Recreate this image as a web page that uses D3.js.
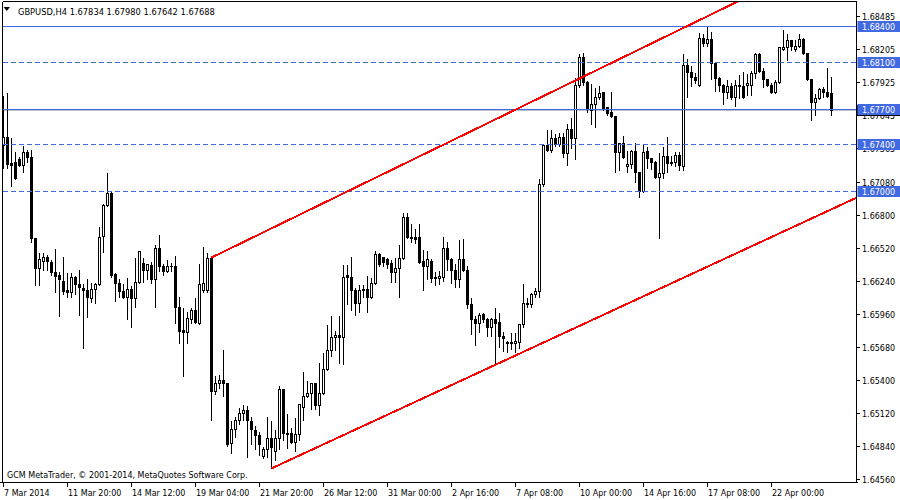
<!DOCTYPE html>
<html><head><meta charset="utf-8">
<script src="https://cdn.jsdelivr.net/npm/d3@7"></script>
<style>
html,body{margin:0;padding:0;background:#fff;}
svg{display:block;}
text{font-family:"DejaVu Sans",sans-serif;font-size:8px;}
</style>
</head><body>
<svg id="c" width="900" height="500"></svg>
<script>
// ---- data (GBPUSD H4 bars, 7 Mar 2014 04:00 -> 24 Apr 2014 12:00) ----
const open=[
1.6739,1.6746,1.6724,1.6725,1.6727,1.6722,1.6733,1.6729,1.6660,1.6635,
1.6641,1.6644,1.6640,1.6631,1.6629,1.6624,1.6616,1.6614,1.6627,1.6621,
1.6618,1.6616,1.6609,1.6617,1.6621,1.6662,1.6688,1.6698,1.6630,1.6622,
1.6615,1.6610,1.6617,1.6609,1.6623,1.6639,1.6633,1.6637,1.6625,1.6652,
1.6636,1.6632,1.6636,1.6636,1.6602,1.6582,1.6580,1.6591,1.6599,1.6588,
1.6616,1.6616,1.6643,1.6530,1.6537,1.6540,1.6537,1.6486,1.6498,1.6506,
1.6512,1.6514,1.6505,1.6497,1.6493,1.6475,1.6481,1.6490,1.6479,1.6490,
1.6532,1.6495,1.6495,1.6487,1.6494,1.6517,1.6526,1.6529,1.6537,1.6518,
1.6529,1.6549,1.6565,1.6576,1.6578,1.6576,1.6629,1.6627,1.6616,1.6605,
1.6617,1.6617,1.6610,1.6622,1.6647,1.6644,1.6642,1.6639,1.6631,1.6635,
1.6643,1.6678,1.6661,1.6661,1.6661,1.6641,1.6636,1.6641,1.6627,1.6626,
1.6627,1.6652,1.6642,1.6633,1.6625,1.6642,1.6633,1.6604,1.6591,1.6588,
1.6596,1.6591,1.6585,1.6591,1.6589,1.6577,1.6572,1.6572,1.6571,1.6572,
1.6587,1.6605,1.6604,1.6613,1.6615,1.6706,1.6739,1.6735,1.6745,1.6740,
1.6746,1.6732,1.6753,1.6745,1.6790,1.6814,1.6793,1.6769,1.6774,1.6780,
1.6784,1.6771,1.6767,1.6764,1.6733,1.6741,1.6721,1.6723,1.6734,1.6716,
1.6700,1.6734,1.6728,1.6725,1.6712,1.6715,1.6730,1.6724,1.6725,1.6731,
1.6721,1.6807,1.6801,1.6797,1.6790,1.6830,1.6826,1.6829,1.6809,1.6796,
1.6790,1.6784,1.6789,1.6780,1.6790,1.6789,1.6790,1.6790,1.6800,1.6816,
1.6802,1.6795,1.6790,1.6784,1.6793,1.6821,1.6822,1.6828,1.6821,1.6823,
1.6829,1.6817,1.6795,1.6776,1.6779,1.6787,1.6784,1.67834];
const high=[
1.6782,1.6784,1.6746,1.6734,1.6730,1.6739,1.6736,1.6736,1.6661,1.6648,
1.6648,1.6647,1.6642,1.6652,1.6632,1.6645,1.6631,1.6631,1.6629,1.6634,
1.6622,1.6626,1.6623,1.6623,1.6670,1.6690,1.6716,1.6700,1.6631,1.6626,
1.6622,1.6627,1.6620,1.6644,1.6650,1.6644,1.6639,1.6641,1.6655,1.6664,
1.6639,1.6642,1.6640,1.6646,1.6611,1.6602,1.6598,1.6602,1.6610,1.6639,
1.6653,1.6648,1.6644,1.6544,1.6545,1.6566,1.6538,1.6506,1.6509,1.6517,
1.6519,1.6518,1.6509,1.6501,1.6496,1.6484,1.6509,1.6506,1.6498,1.6535,
1.6533,1.6512,1.6500,1.6508,1.6520,1.6547,1.6540,1.6538,1.6538,1.6555,
1.6563,1.6587,1.6595,1.6582,1.6595,1.6638,1.6638,1.6645,1.6619,1.6621,
1.6621,1.6629,1.6627,1.6650,1.6648,1.6645,1.6644,1.6642,1.6644,1.6655,
1.6682,1.6682,1.6673,1.6669,1.6673,1.6651,1.6650,1.6643,1.6632,1.6633,
1.6662,1.6658,1.6644,1.6639,1.6659,1.6660,1.6637,1.6610,1.6595,1.6597,
1.6597,1.6593,1.6593,1.6602,1.6597,1.6581,1.6574,1.6580,1.6580,1.6588,
1.6622,1.6610,1.6614,1.6619,1.6711,1.6741,1.6753,1.6753,1.6749,1.6750,
1.6750,1.6758,1.6763,1.6797,1.6817,1.6818,1.6794,1.6792,1.6788,1.6790,
1.6785,1.6772,1.6785,1.6765,1.6742,1.6748,1.6735,1.6736,1.6742,1.6717,
1.6741,1.6738,1.6729,1.6726,1.6733,1.6738,1.6747,1.6731,1.6734,1.6734,
1.6817,1.6813,1.6807,1.6801,1.6835,1.6834,1.6840,1.6836,1.6810,1.6798,
1.6792,1.6795,1.6793,1.6795,1.6799,1.6802,1.6800,1.6803,1.6818,1.6818,
1.6805,1.6796,1.6793,1.6795,1.6823,1.6838,1.6834,1.6829,1.6829,1.6834,
1.6831,1.6818,1.6796,1.6783,1.6788,1.6789,1.6805,1.67980];
const low=[
1.6720,1.6720,1.6704,1.6710,1.6721,1.6716,1.6725,1.6657,1.6620,1.6620,
1.6633,1.6633,1.6629,1.6614,1.6594,1.6613,1.6610,1.6610,1.6613,1.6595,
1.6567,1.6593,1.6606,1.6605,1.6620,1.6648,1.6687,1.6627,1.6607,1.6610,
1.6609,1.6591,1.6585,1.6602,1.6622,1.6623,1.6625,1.6622,1.6602,1.6632,
1.6629,1.6631,1.6632,1.6588,1.6571,1.6543,1.6571,1.6588,1.6588,1.6587,
1.6614,1.6614,1.6506,1.6528,1.6533,1.6526,1.6484,1.6478,1.6491,1.6502,
1.6506,1.6474,1.6485,1.6481,1.6476,1.6473,1.6474,1.6465,1.6472,1.6481,
1.6489,1.6482,1.6486,1.6479,1.6489,1.6506,1.6525,1.6515,1.6515,1.6510,
1.6528,1.6548,1.6560,1.6565,1.6554,1.6553,1.6604,1.6599,1.6595,1.6597,
1.6610,1.6597,1.6609,1.6621,1.6636,1.6636,1.6635,1.6623,1.6623,1.6610,
1.6642,1.6660,1.6657,1.6656,1.6639,1.6616,1.6625,1.6623,1.6620,1.6621,
1.6624,1.6633,1.6622,1.6619,1.6619,1.6632,1.6601,1.6579,1.6569,1.6580,
1.6589,1.6577,1.6577,1.6553,1.6568,1.6564,1.6563,1.6566,1.6563,1.6567,
1.6585,1.6602,1.6602,1.6610,1.6610,1.6704,1.6734,1.6733,1.6738,1.6738,
1.6729,1.6722,1.6737,1.6727,1.6788,1.6790,1.6767,1.6757,1.6754,1.6778,
1.6769,1.6765,1.6763,1.6716,1.6718,1.6728,1.6716,1.6720,1.6708,1.6695,
1.6699,1.6720,1.6719,1.6711,1.6660,1.6711,1.6716,1.6722,1.6721,1.6718,
1.6718,1.6780,1.6789,1.6792,1.6789,1.6823,1.6823,1.6795,1.6785,1.6785,
1.6774,1.6779,1.6778,1.6772,1.6779,1.6779,1.6782,1.6782,1.6796,1.6801,
1.6788,1.6789,1.6783,1.6783,1.6792,1.6820,1.6811,1.6820,1.6819,1.6822,
1.6816,1.6794,1.6760,1.6765,1.6778,1.6780,1.6780,1.67642];
const close=[
1.6746,1.6723,1.6722,1.6711,1.6722,1.6733,1.6729,1.6660,1.6635,1.6642,
1.6644,1.6641,1.6631,1.6628,1.6625,1.6615,1.6614,1.6627,1.6621,1.6619,
1.6616,1.6610,1.6617,1.6621,1.6661,1.6688,1.6698,1.6629,1.6622,1.6615,
1.6610,1.6617,1.6609,1.6623,1.6649,1.6633,1.6638,1.6625,1.6652,1.6636,
1.6632,1.6636,1.6636,1.6602,1.6581,1.6580,1.6592,1.6599,1.6589,1.6621,
1.6622,1.6643,1.6530,1.6537,1.6540,1.6537,1.6485,1.6498,1.6506,1.6512,
1.6514,1.6506,1.6498,1.6493,1.6485,1.6481,1.6490,1.6483,1.6490,1.6532,
1.6495,1.6494,1.6487,1.6494,1.6519,1.6526,1.6529,1.6537,1.6518,1.6529,
1.6549,1.6565,1.6576,1.6578,1.6576,1.6627,1.6627,1.6616,1.6605,1.6616,
1.6616,1.6610,1.6622,1.6647,1.6638,1.6640,1.6638,1.6631,1.6635,1.6643,
1.6678,1.6661,1.6660,1.6659,1.6640,1.6636,1.6642,1.6626,1.6626,1.6628,
1.6652,1.6642,1.6633,1.6625,1.6642,1.6633,1.6604,1.6591,1.6588,1.6595,
1.6591,1.6585,1.6591,1.6588,1.6577,1.6575,1.6571,1.6571,1.6573,1.6587,
1.6605,1.6604,1.6613,1.6615,1.6706,1.6739,1.6735,1.6745,1.6740,1.6746,
1.6732,1.6753,1.6745,1.6790,1.6814,1.6793,1.6770,1.6774,1.6780,1.6783,
1.6770,1.6766,1.6764,1.6733,1.6741,1.6729,1.6723,1.6734,1.6716,1.6700,
1.6733,1.6728,1.6725,1.6712,1.6715,1.6730,1.6724,1.6725,1.6731,1.6722,
1.6807,1.6801,1.6797,1.6794,1.6830,1.6826,1.6829,1.6809,1.6796,1.6790,
1.6784,1.6789,1.6780,1.6790,1.6789,1.6780,1.6792,1.6800,1.6816,1.6802,
1.6795,1.6790,1.6784,1.6793,1.6822,1.6822,1.6828,1.6823,1.6823,1.6829,
1.6817,1.6795,1.6776,1.6779,1.6787,1.6784,1.6781,1.67688];

const timeLabels=["7 Mar 2014","11 Mar 20:00","14 Mar 12:00","19 Mar 04:00","21 Mar 20:00","26 Mar 12:00","31 Mar 00:00","2 Apr 16:00","7 Apr 08:00","10 Apr 00:00","14 Apr 16:00","17 Apr 08:00","22 Apr 00:00"];
const barsPerLabel=16;
const priceTicks=[1.68485,1.68205,1.67925,1.67645,1.67365,1.67080,1.66800,1.66520,1.66240,1.65960,1.65680,1.65400,1.65120,1.64840,1.64560];
const levels=[1.684,1.681,1.677,1.674,1.670];
const dashedLevels=[1.681,1.674,1.670];
const bidPrice=1.67688;
const trendUpper=[[52,1.6644],[170,1.6839]];
const trendLower=[[67,1.6465],[123,1.6553]];
const titleText="GBPUSD,H4  1.67834 1.67980 1.67642 1.67688";
const copyText="GCM MetaTrader, \u00A9 2001-2014, MetaQuotes Software Corp.";

// ---- drawing ----
const svg=d3.select("#c");
const PL=2.5,PR=856.5,PT=1.5,PB=482.5;
const n=open.length;
const x=d3.scaleLinear().domain([0,n-1]).range([3.5,3.5+4*(n-1)]);
const y=d3.scaleLinear().domain([1.6456,1.6840]).range([479,26.7]);
const sy=v=>Math.floor(y(v))+0.5;
const blue="#4169E1";

svg.append("rect").attr("width",900).attr("height",500).attr("fill","#fff");
svg.append("clipPath").attr("id","clip").append("rect")
  .attr("x",PL+0.5).attr("y",PT+0.5).attr("width",PR-PL-1).attr("height",PB-PT-1);

const plot=svg.append("g").attr("clip-path","url(#clip)").attr("shape-rendering","crispEdges");

// bid line (gray)
plot.append("line").attr("x1",PL).attr("x2",PR).attr("y1",sy(bidPrice)).attr("y2",sy(bidPrice))
  .attr("stroke","#c0c0c0").attr("stroke-width",1);

// candles
const idx=d3.range(n);
const cg=plot.append("g");
cg.selectAll("line.wick").data(idx).join("line").attr("class","wick")
  .attr("x1",i=>x(i)).attr("x2",i=>x(i))
  .attr("y1",i=>sy(high[i])).attr("y2",i=>sy(low[i]))
  .attr("stroke","#000").attr("stroke-width",1);
idx.forEach(i=>{
  const yo=sy(open[i]), yc=sy(close[i]);
  if(yo===yc){
    cg.append("line").attr("x1",x(i)-1.5).attr("x2",x(i)+1.5).attr("y1",yo).attr("y2",yo)
      .attr("stroke","#000").attr("stroke-width",1);
  } else {
    cg.append("rect").attr("x",x(i)-1).attr("width",2)
      .attr("y",Math.min(yo,yc)).attr("height",Math.abs(yo-yc))
      .attr("fill",close[i]>open[i]?"#fff":"#000").attr("stroke","#000").attr("stroke-width",1);
  }
});

// horizontal levels
plot.selectAll("line.lvl").data(levels).join("line").attr("class","lvl")
  .attr("x1",PL).attr("x2",PR).attr("y1",d=>sy(d)).attr("y2",d=>sy(d))
  .attr("stroke",blue).attr("stroke-width",1)
  .attr("stroke-dasharray",d=>dashedLevels.includes(d)?"5,3":null);

// trend lines (rays to the right)
const xEnd=x.invert(PR);
[trendUpper,trendLower].forEach(t=>{
  const [[i1,p1],[i2,p2]]=t;
  const pe=p1+(p2-p1)*(xEnd-i1)/(i2-i1);
  plot.append("line").attr("x1",x(i1)).attr("y1",y(p1)).attr("x2",x(xEnd)).attr("y2",y(pe))
    .attr("stroke","#ff0000").attr("stroke-width",2);
});

// frame
const fr=svg.append("g").attr("shape-rendering","crispEdges").attr("stroke","#000").attr("stroke-width",1);
fr.append("line").attr("x1",PL).attr("x2",PL).attr("y1",PT).attr("y2",PB);
fr.append("line").attr("x1",PL).attr("x2",PR).attr("y1",PT).attr("y2",PT);
fr.append("line").attr("x1",PR).attr("x2",PR).attr("y1",PT).attr("y2",PB);
fr.append("line").attr("x1",0).attr("x2",PR+1).attr("y1",PB).attr("y2",PB);

// right price axis
const ra=svg.append("g");
ra.selectAll("line").data(priceTicks).join("line")
  .attr("x1",PR).attr("x2",PR+3.5).attr("y1",d=>sy(d)).attr("y2",d=>sy(d))
  .attr("stroke","#000").attr("shape-rendering","crispEdges");
ra.selectAll("text").data(priceTicks).join("text")
  .attr("x",862).attr("y",d=>sy(d)+3).attr("fill","#000").text(d=>d.toFixed(5));

// bid label (black) then level labels (blue)
svg.append("rect").attr("x",PR+0.5).attr("width",900-PR).attr("y",sy(bidPrice)-5.5).attr("height",11).attr("fill","#000");
const lb=svg.append("g").selectAll("g").data(levels).join("g");
lb.append("rect").attr("x",PR+1).attr("width",900-PR).attr("y",d=>sy(d)-5.5).attr("height",11).attr("fill",blue);
lb.append("text").attr("x",862).attr("y",d=>sy(d)+3).attr("fill","#fff").text(d=>d.toFixed(5));

// bottom time axis
const ticksIdx=timeLabels.map((_,k)=>k*barsPerLabel);
const ba=svg.append("g");
ba.selectAll("line").data(ticksIdx).join("line")
  .attr("x1",d=>x(d)).attr("x2",d=>x(d)).attr("y1",PB).attr("y2",PB+4)
  .attr("stroke","#000").attr("shape-rendering","crispEdges");
ba.selectAll("text").data(timeLabels).join("text")
  .attr("x",(d,k)=>x(ticksIdx[k])+0.5).attr("y",495.5).attr("fill","#000").text(d=>d);

// title & copyright
svg.append("path").attr("d","M3.5,7 L10,7 L6.75,11 Z").attr("fill","#000");
svg.append("text").attr("x",18).attr("y",14.5).attr("fill","#000").style("font-size","8.3px").text(titleText);
svg.append("text").attr("x",7).attr("y",477.5).attr("fill","#000").text(copyText);
</script>
</body></html>
